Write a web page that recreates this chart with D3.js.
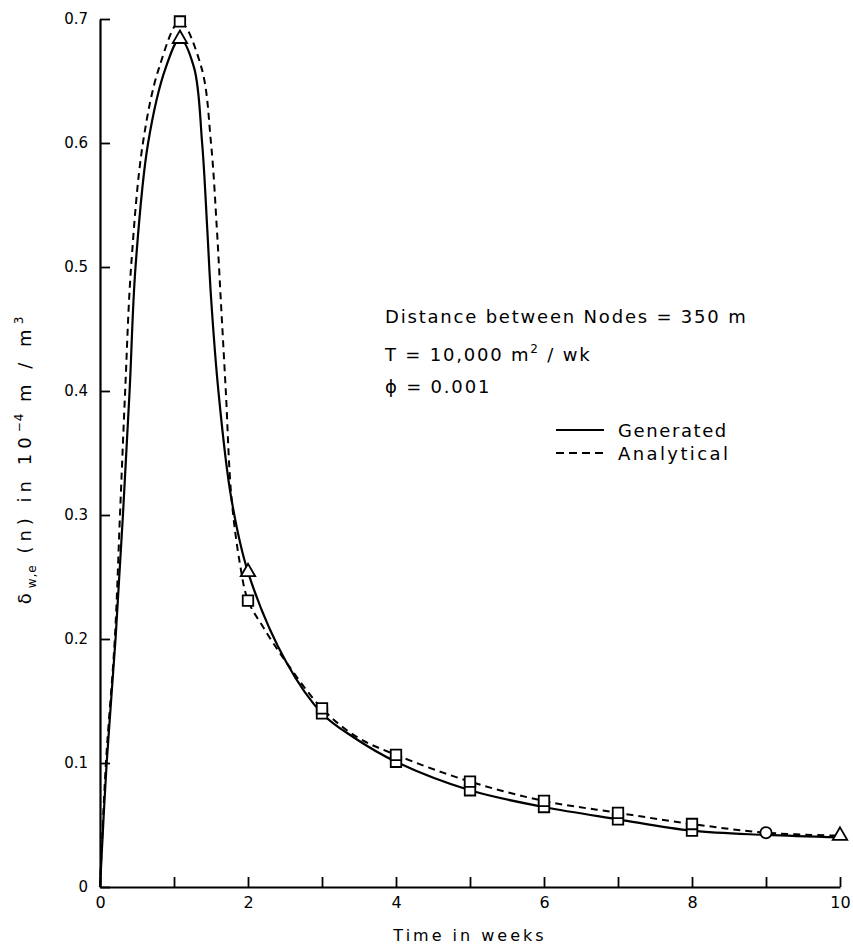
<!DOCTYPE html>
<html>
<head>
<meta charset="utf-8">
<script src="https://cdn.jsdelivr.net/npm/d3@7"></script>
<style>
  html, body { margin: 0; padding: 0; background: #fff; }
  svg { display: block; }
  text { font-family: "DejaVu Sans", sans-serif; fill: #000; }
</style>
</head>
<body>
<svg id="chart" width="853" height="950"></svg>
<script>
// ---- data ----
const xTicks = [0, 1, 2, 3, 4, 5, 6, 7, 8, 9, 10];
const xTickLabels = ["0", "", "2", "", "4", "", "6", "", "8", "", "10"];
const yTicks = [0, 0.1, 0.2, 0.3, 0.4, 0.5, 0.6, 0.7];
const yTickLabels = ["0", "0.1", "0.2", "0.3", "0.4", "0.5", "0.6", "0.7"];

// Generated (solid line): time in weeks, value
const generatedT = [0, 0.09, 0.21, 0.31, 0.40, 0.48, 0.65, 0.89, 1.08, 1.27, 1.38, 1.45, 1.50, 1.60, 1.77, 2.0, 2.52, 3.0, 3.42, 4, 5, 6, 7, 8, 9, 10];
const generatedV = [0, 0.1, 0.2, 0.3, 0.4, 0.5, 0.6, 0.661, 0.684, 0.661, 0.6, 0.53, 0.476, 0.4, 0.315, 0.254, 0.181, 0.140, 0.121, 0.101, 0.078, 0.0645, 0.0546, 0.0454, 0.042, 0.040];

// Analytical (dashed line)
const analyticalT = [0, 0.08, 0.20, 0.27, 0.34, 0.42, 0.58, 0.80, 1.08, 1.37, 1.50, 1.58, 1.63, 1.70, 1.775, 1.89, 2.0, 2.20, 2.52, 3.0, 3.47, 4, 5, 6, 7, 8, 9, 10];
const analyticalV = [0, 0.1, 0.2, 0.3, 0.4, 0.5, 0.6, 0.661, 0.698, 0.661, 0.6, 0.53, 0.476, 0.4, 0.315, 0.261, 0.231, 0.21, 0.181, 0.144, 0.121, 0.1065, 0.085, 0.0694, 0.0598, 0.0508, 0.0438, 0.0414];

// Marker points
const analyticalMarkT = [1.08, 2, 3, 4, 5, 6, 7, 8, 9, 10];
const analyticalMarkV = [0.698, 0.231, 0.144, 0.1065, 0.085, 0.0694, 0.0598, 0.0508, 0.0438, 0.0414];
const analyticalMarkShape = ["square", "square", "square", "square", "square", "square", "square", "square", "circle", "triangle"];
const generatedMarkT = [1.08, 2, 3, 4, 5, 6, 7, 8];
const generatedMarkV = [0.684, 0.254, 0.140, 0.101, 0.078, 0.0645, 0.0546, 0.0454];
const generatedMarkShape = ["triangle", "triangle", "square", "square", "square", "square", "square", "square"];

const annotationLines = ["Distance between Nodes = 350 m", "T = 10,000 m", "\u03D5 = 0.001"];
const legendLabels = ["Generated", "Analytical"];
const xAxisTitle = "Time in weeks";

// ---- layout ----
const svg = d3.select("#chart");
const x = d3.scaleLinear().domain([0, 10]).range([100, 840]);
const y = d3.scaleLinear().domain([0, 0.7]).range([887, 19]);

// axes
const yAxis = d3.axisLeft(y).tickValues(yTicks)
  .tickFormat((d, i) => yTickLabels[i]).tickSizeInner(-10).tickSizeOuter(0).tickPadding(12);
const xAxis = d3.axisBottom(x).tickValues(xTicks)
  .tickFormat((d, i) => xTickLabels[i]).tickSizeInner(-10).tickSizeOuter(0).tickPadding(10);

const gy = svg.append("g").attr("transform", `translate(${x(0)},0)`).call(yAxis);
const gx = svg.append("g").attr("transform", `translate(0,${y(0)})`).call(xAxis);
[gx, gy].forEach(g => {
  g.select(".domain").attr("stroke", "#000").attr("stroke-width", 2.2);
  g.selectAll(".tick line").attr("stroke", "#000").attr("stroke-width", 1.8);
  g.selectAll(".tick text").attr("font-family", "DejaVu Sans, sans-serif")
    .attr("font-size", 15).attr("fill", "#000");
});
gx.selectAll(".tick text").attr("font-size", 16);

// lines
const line = d3.line().x(d => x(d[0])).y(d => y(d[1])).curve(d3.curveCatmullRom.alpha(0.5));
const genData = generatedT.map((t, i) => [t, generatedV[i]]);
const anaData = analyticalT.map((t, i) => [t, analyticalV[i]]);

svg.append("path").datum(anaData).attr("d", line)
  .attr("fill", "none").attr("stroke", "#000").attr("stroke-width", 2)
  .attr("stroke-dasharray", "7,5");
svg.append("path").datum(genData).attr("d", line)
  .attr("fill", "none").attr("stroke", "#000").attr("stroke-width", 2.2);

// markers
const symType = { square: d3.symbolSquare, triangle: d3.symbolTriangle, circle: d3.symbolCircle };
const symSize = { square: 110, triangle: 90, circle: 100 };
function drawMarkers(ts, vs, shapes) {
  svg.append("g").selectAll("path").data(ts.map((t, i) => ({ t, v: vs[i], s: shapes[i] })))
    .join("path")
    .attr("transform", d => `translate(${x(d.t)},${y(d.v)})`)
    .attr("d", d => d3.symbol().type(symType[d.s]).size(symSize[d.s])())
    .attr("fill", "#fff").attr("stroke", "#000").attr("stroke-width", 1.8);
}
drawMarkers(generatedMarkT, generatedMarkV, generatedMarkShape);
drawMarkers(analyticalMarkT, analyticalMarkV, analyticalMarkShape);

// annotation
const ann = svg.append("g").attr("font-size", 18).attr("letter-spacing", 1.8);
ann.append("text").attr("x", 385).attr("y", 323).text(annotationLines[0]);
const t2 = ann.append("text").attr("x", 385).attr("y", 361);
t2.append("tspan").text(annotationLines[1]);
t2.append("tspan").attr("font-size", 12).attr("dy", -8).text("2");
t2.append("tspan").attr("dy", 8).text(" / wk");
ann.append("text").attr("x", 385).attr("y", 393).text(annotationLines[2]);

// legend
const lg = svg.append("g");
lg.append("line").attr("x1", 556).attr("x2", 604).attr("y1", 430).attr("y2", 430)
  .attr("stroke", "#000").attr("stroke-width", 2);
lg.append("line").attr("x1", 556).attr("x2", 605).attr("y1", 453).attr("y2", 453)
  .attr("stroke", "#000").attr("stroke-width", 2).attr("stroke-dasharray", "8,5");
lg.append("text").attr("x", 618).attr("y", 437).attr("font-size", 18).attr("letter-spacing", 1.6).text(legendLabels[0]);
lg.append("text").attr("x", 618).attr("y", 460).attr("font-size", 18).attr("letter-spacing", 2.4).text(legendLabels[1]);

// x axis title
svg.append("text").attr("x", 470).attr("y", 941).attr("text-anchor", "middle")
  .attr("font-size", 16).attr("letter-spacing", 3).text(xAxisTitle);

// y axis title
const yt = svg.append("text").attr("transform", "translate(31,458) rotate(-90)")
  .attr("text-anchor", "middle").attr("font-size", 18).attr("letter-spacing", 5);
yt.append("tspan").text("\u03B4");
yt.append("tspan").attr("font-size", 12).attr("dy", 5).attr("letter-spacing", 1).text("w,e");
yt.append("tspan").attr("dy", -5).text(" (n) in 10");
yt.append("tspan").attr("font-size", 12).attr("dy", -8).attr("letter-spacing", 1).text("\u22124");
yt.append("tspan").attr("dy", 8).text(" m / m");
yt.append("tspan").attr("font-size", 12).attr("dy", -8).text("3");
</script>
</body>
</html>
